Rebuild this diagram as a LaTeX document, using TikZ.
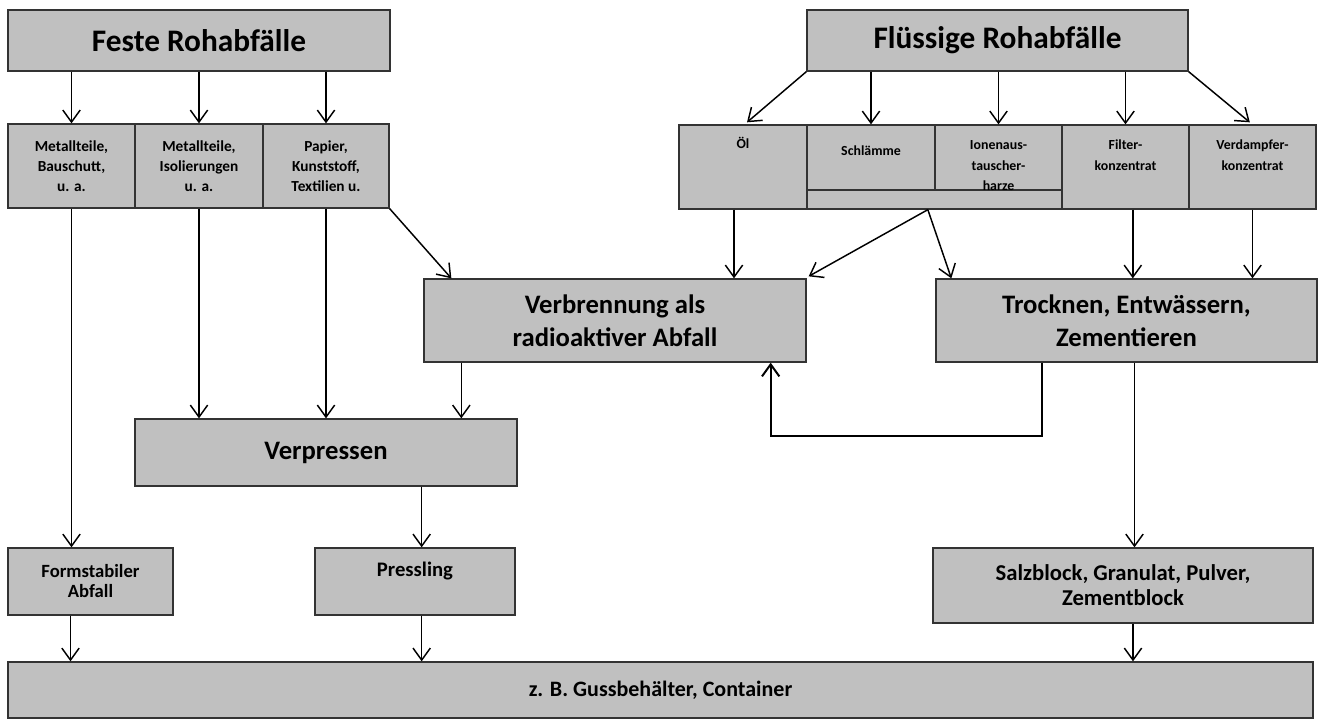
\documentclass[tikz,border=0pt]{standalone}
\usepackage{fontspec}
\setmainfont{Carlito}
\usetikzlibrary{arrows.meta,positioning,calc}
\definecolor{boxgray}{HTML}{C0C0C0}
\tikzset{
  box/.style={draw=black!80, line width=1pt, fill=boxgray,
    inner sep=0pt, align=center},
  headbox/.style={box, font=\fontsize{23.5}{28}\selectfont\bfseries},
  stepbox/.style={box, font=\fontsize{20}{24.75}\selectfont\bfseries},
  partbox/.style={box, font=\fontsize{11.5}{15}\selectfont\bfseries},
  endbox/.style={box, font=\fontsize{14}{15}\selectfont\bfseries},
  partlabel/.style={align=center, inner sep=0pt,
    font=\fontsize{10.4}{15.5}\selectfont\bfseries},
  arr/.style={-{Straight Barb[length=9pt,width=13pt]}, line width=1.1pt},
}

\begin{document}
\begin{tikzpicture}[x=0.75pt, y=-0.75pt]
  \useasboundingbox (0,0) rectangle (1322,720);

  % Rohabfaelle
  \node[headbox, minimum width=286.5pt, minimum height=45.75pt] (feste) at (199,40.5) {Feste Rohabfälle};
  \node[headbox, minimum width=285.75pt, minimum height=45.75pt] (fluessig) at (997.5,40.5) {Flüssige Rohabfälle};

  % feste Teile
  \node[partbox, minimum width=95.25pt, minimum height=63pt] (metall1) at (71.5,166) {Metallteile,\\Bauschutt,\\u. a.};
  \node[partbox, minimum width=96pt, minimum height=63pt] (metall2) at (199,166) {Metallteile,\\Isolierungen\\u. a.};
  \node[partbox, minimum width=94.5pt, minimum height=63pt] (papier) at (326,166) {Papier,\\Kunststoff,\\Textilien u.};

  % fluessige Teile
  \node[box, minimum width=96pt, minimum height=63pt] (oel) at (743,167) {};
  \node[box, minimum width=96pt, minimum height=48.75pt] (schlaemme) at (871,157.5) {};
  \node[box, minimum width=95.25pt, minimum height=48.75pt] (ionen) at (998.5,157.5) {};
  \node[box, minimum width=191.25pt, minimum height=14.25pt] (strip) at (934.5,199.5) {};
  \node[box, minimum width=95.25pt, minimum height=63pt] (filter) at (1125.5,167) {};
  \node[box, minimum width=95.25pt, minimum height=63pt] (verdampfer) at (1252.5,167) {};
  \node[partlabel] (oel-t) at ([yshift=-14.25pt]oel.north) {Öl};
  \node[partlabel] (schlaemme-t) at ([yshift=-19.5pt]schlaemme.north) {Schlämme};
  \node[partlabel] (ionen-t) at ([yshift=-31pt]ionen.north) {Ionenaus-\\tauscher-\\harze};
  \node[partlabel] (filter-t) at ([yshift=-23.25pt]filter.north) {Filter-\\konzentrat};
  \node[partlabel] (verdampfer-t) at ([yshift=-23.25pt]verdampfer.north) {Verdampfer-\\konzentrat};

  % Behandlung
  \node[stepbox, minimum width=286.5pt, minimum height=62.25pt] (verbrennung) at (615,320.5) {Verbrennung als\\radioaktiver Abfall};
  \node[stepbox, minimum width=285.75pt, minimum height=62.25pt] (trocknen) at (1126.5,320.5) {Trocknen, Entwässern,\\Zementieren};
  \node[stepbox, minimum width=286.5pt, minimum height=50.25pt] (verpressen) at (326,452.5) {Verpressen};

  % Produkte
  \node[endbox, minimum width=123.75pt, minimum height=50.25pt] (formstabil) at (90.5,581.5) {Formstabiler\\Abfall};
  \node[endbox, minimum width=150pt, minimum height=50.25pt] (pressling) at (415,581.5) {};
  \node[partlabel, font=\fontsize{15.5}{15}\selectfont\bfseries] (pressling-t) at ([yshift=-18pt]pressling.north) {Pressling};
  \node[endbox, font=\fontsize{17}{18.75}\selectfont\bfseries, minimum width=285pt, minimum height=56.25pt] (salzblock) at (1123,585.5) {Salzblock, Granulat, Pulver,\\Zementblock};
  \node[endbox, font=\fontsize{16.5}{18}\selectfont\bfseries, minimum width=978.75pt, minimum height=42pt] (container) at (660.5,690) {z. B. Gussbehälter, Container};

  % Pfeile feste Seite
  \draw[arr] (feste.south -| metall1.north) -- (metall1.north);
  \draw[arr] (feste.south -| metall2.north) -- (metall2.north);
  \draw[arr] (feste.south -| papier.north) -- (papier.north);
  \draw[arr] (metall1.south) -- (metall1.south |- formstabil.north);
  \draw[arr] (metall2.south) -- (metall2.south |- verpressen.north);
  \draw[arr] (papier.south) -- (papier.south |- verpressen.north);
  \draw[arr] (papier.south east) -- ([xshift=21pt]verbrennung.north west);
  \path ([xshift=28.5pt]verbrennung.south west) coordinate (vb);
  \draw[arr] (vb) -- (vb |- verpressen.north);
  \path ([xshift=5pt]pressling.north) coordinate (pn);
  \draw[arr] (pn |- verpressen.south) -- (pn);

  % Pfeile fluessige Seite
  \draw[arr] (fluessig.south west) -- ([xshift=3pt,yshift=1.5pt]oel.north);
  \draw[arr] (fluessig.south -| schlaemme.north) -- (schlaemme.north);
  \draw[arr] (fluessig.south -| ionen.north) -- (ionen.north);
  \draw[arr] (fluessig.south -| filter.north) -- (filter.north);
  \draw[arr] (fluessig.south east) -- ([xshift=-2pt,yshift=1.5pt]verdampfer.north);
  \path ([xshift=-6.75pt]oel.south) coordinate (os);
  \draw[arr] (os) -- (os |- verbrennung.north);
  \path ([xshift=-5pt]strip.south) coordinate (st);
  \draw[arr] (st) -- ([xshift=1.5pt,yshift=1.5pt]verbrennung.north east);
  \draw[arr] (st) -- ([xshift=12pt]trocknen.north west);
  \path ([xshift=5.5pt]filter.south) coordinate (fs);
  \draw[arr] (fs) -- (fs |- trocknen.north);
  \draw[arr] (verdampfer.south) -- (verdampfer.south |- trocknen.north);

  % Rueckfuehrung
  \path ([xshift=-63.4pt]trocknen.south) coordinate (fb1);
  \path ([xshift=-27pt]verbrennung.south east) coordinate (fb2);
  \draw[arr, line width=1.5pt] (fb1) -- ++(0,73) -| (fb2);

  % zum Behaelter
  \path ([xshift=6pt]trocknen.south) coordinate (ts);
  \draw[arr] (ts) -- (ts |- salzblock.north);
  \path ([xshift=7.5pt]salzblock.south) coordinate (ss);
  \draw[arr] (ss) -- (ss |- container.north);
  \path ([xshift=-15pt]formstabil.south) coordinate (fo);
  \draw[arr] (fo) -- (fo |- container.north);
  \draw[arr] (pn |- pressling.south) -- (pn |- container.north);
\end{tikzpicture}
\end{document}
